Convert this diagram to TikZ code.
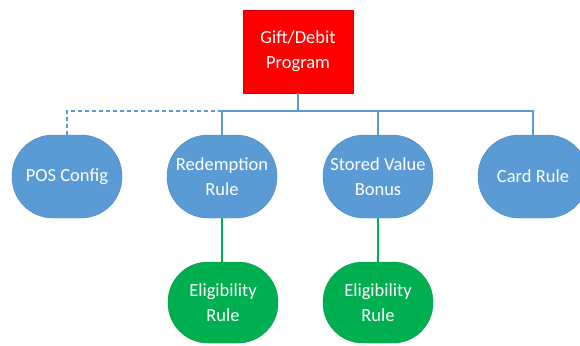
\documentclass[tikz,border=0pt]{standalone}
\usepackage{fontspec}
\setmainfont{Carlito}
\definecolor{nodeblue}{HTML}{5B9BD5}
\definecolor{nodegreen}{HTML}{00B050}
\definecolor{nodered}{HTML}{FF0000}
\begin{document}
\begin{tikzpicture}[x=1pt,y=-1pt,
  every node/.style={font=\fontsize{18.5}{25}\selectfont, text=white, align=center, inner sep=0pt},
  bluenode/.style={fill=nodeblue, draw=nodeblue!85!black, line width=0.4pt, rounded corners=41pt, minimum width=110pt, minimum height=83pt},
  greennode/.style={fill=nodegreen, draw=nodegreen!85!black, line width=0.4pt, rounded corners=40pt, minimum width=110pt, minimum height=81pt},
  rednode/.style={fill=nodered, draw=nodered!85!black, line width=0.4pt, minimum width=110pt, minimum height=83pt},
  blueline/.style={draw=nodeblue, line width=2pt},
  greenline/.style={draw=nodegreen, line width=2pt}]
\useasboundingbox (0,0) rectangle (580,345);
\node[rednode] (prog) at (298,51.5) {Gift/Debit\\Program};
\node[bluenode] (pos) at (67,176.5) {POS Config};
\node[bluenode] (red) at (222,176.5) {Redemption\\Rule};
\node[bluenode] (svb) at (378,176.5) {Stored Value\\Bonus};
\node[bluenode] (card) at (533,176.5) {Card Rule};
\node[greennode] (el1) at (223,302.5) {Eligibility\\Rule};
\node[greennode] (el2) at (378,302.5) {Eligibility\\Rule};
\coordinate (bus) at (298,111);
\draw[blueline] (prog.south) -- (bus);
\draw[blueline] (red.north) -- (red.north |- bus) -- (card.north |- bus) -- (card.north);
\draw[blueline] (svb.north) -- (svb.north |- bus);
\draw[blueline, dash pattern=on 4pt off 3pt] (red.north |- bus) -- (pos.north |- bus) -- (pos.north);
\draw[greenline] (red.south) -- (el1.north -| red.south);
\draw[greenline] (svb.south) -- (el2.north);
\end{tikzpicture}
\end{document}
